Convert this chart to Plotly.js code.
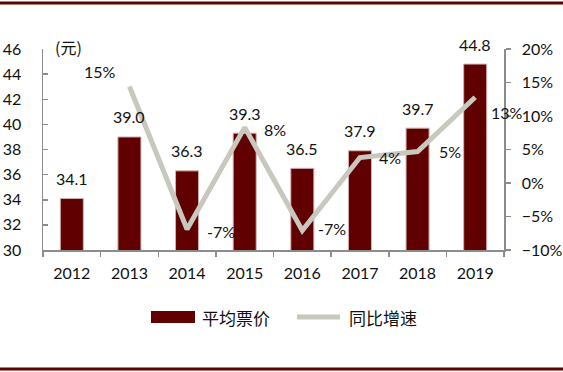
<!DOCTYPE html>
<html>
<head>
<meta charset="utf-8">
<script src="https://cdn.plot.ly/plotly-3.0.1.min.js"></script>
<style>html,body{margin:0;padding:0;background:#fff;}#chart{width:563px;height:372px;}</style>
</head>
<body>
<div id="chart"></div>
<script>
const years = ['2012','2013','2014','2015','2016','2017','2018','2019'];
const avgPrice = [34.1, 39.0, 36.3, 39.3, 36.5, 37.9, 39.7, 44.8];
const growthYears = ['2013','2014','2015','2016','2017','2018','2019'];
const growth = [0.144, -0.069, 0.083, -0.071, 0.038, 0.047, 0.128];
const growthLabels = ['15%','-7%','8%','-7%','4%','5%','13%'];
const priceName = '平均票价';
const growthName = '同比增速';

// label offsets (styling, px)
const gOff = [[-29,15],[34,-2],[30,-2],[30,2],[30,0],[32,0],[32,-15]];

const numFont = {family: 'Lato, "Liberation Sans", sans-serif', size: 16, color: '#111'};
const cjkFont = {family: '"Noto Sans CJK SC", sans-serif', size: 16, color: '#111'};
const legFont = {family: '"Noto Sans CJK SC", sans-serif', size: 17, color: '#111'};

const L = 43, R = 504, T = 49, B = 250, W = 563, H = 372;
const px = x => (x - L) / (R - L);
const py = y => (B - y) / (B - T);

const traces = [
  {type: 'bar', x: years, y: avgPrice, name: priceName, width: 0.4,
   marker: {color: '#600000', line: {color: '#d2b4b4', width: 1}}, yaxis: 'y', hoverinfo: 'skip'},
  {type: 'scatter', mode: 'lines', x: growthYears, y: growth, name: growthName, yaxis: 'y2',
   line: {color: '#c8c8bf', width: 5}, hoverinfo: 'skip'}
];

const annotations = [];
years.forEach((yr, i) => annotations.push({x: years.indexOf(yr), y: avgPrice[i], xref: 'x', yref: 'y', text: avgPrice[i].toFixed(1),
  showarrow: false, xanchor: 'center', yanchor: 'middle', yshift: 20, font: numFont}));
growthYears.forEach((yr, i) => annotations.push({x: years.indexOf(yr), y: growth[i], xref: 'x', yref: 'y2', text: growthLabels[i],
  showarrow: false, xanchor: 'center', yanchor: 'middle', xshift: gOff[i][0], yshift: gOff[i][1], font: numFont}));
annotations.push({x: px(68), y: py(47), xref: 'paper', yref: 'paper', text: '(元)', showarrow: false, xanchor: 'center', yanchor: 'middle', font: cjkFont});
annotations.push({x: px(200), y: py(317), xref: 'paper', yref: 'paper', text: priceName, showarrow: false, xanchor: 'left', yanchor: 'middle', font: legFont});
annotations.push({x: px(347), y: py(317), xref: 'paper', yref: 'paper', text: growthName, showarrow: false, xanchor: 'left', yanchor: 'middle', font: legFont});

const shapes = [
  {type: 'line', xref: 'paper', yref: 'paper', x0: px(0), x1: px(W), y0: py(3), y1: py(3), line: {color: '#600000', width: 3}},
  {type: 'line', xref: 'paper', yref: 'paper', x0: px(0), x1: px(W), y0: py(369), y1: py(369), line: {color: '#600000', width: 3}},
  {type: 'rect', xref: 'paper', yref: 'paper', x0: px(151), x1: px(195), y0: py(311), y1: py(323), fillcolor: '#600000', line: {width: 0}},
  {type: 'line', xref: 'paper', yref: 'paper', x0: px(297), x1: px(340), y0: py(317), y1: py(317), line: {color: '#c8c8bf', width: 5}}
];

const layout = {
  width: W, height: H,
  margin: {l: L, r: W - R, t: T, b: H - B},
  paper_bgcolor: '#fff', plot_bgcolor: '#fff',
  showlegend: false,
  font: numFont,
  xaxis: {type: 'category', range: [-0.5, years.length - 0.5], showline: true, linecolor: '#8c8c8c', linewidth: 1.5, ticks: 'outside', tickson: 'boundaries',
    ticklen: 5, tickcolor: '#8c8c8c', tickwidth: 1.5, showgrid: false, zeroline: false, tickfont: numFont, ticklabelstandoff: 8, tickangle: 0},
  yaxis: {range: [30, 46], dtick: 2, showline: true, linecolor: '#8c8c8c', linewidth: 1.5, ticks: 'inside', ticklen: 5,
    tickcolor: '#8c8c8c', tickwidth: 1.5, showgrid: false, zeroline: false, tickfont: numFont, ticklabelstandoff: 17},
  yaxis2: {overlaying: 'y', side: 'right', range: [-0.10, 0.20], dtick: 0.05, tickformat: '.0%', showline: true,
    linecolor: '#8c8c8c', linewidth: 1.5, ticks: 'outside', ticklen: 5, tickcolor: '#8c8c8c', tickwidth: 1.5,
    showgrid: false, zeroline: false, tickfont: numFont, ticklabelstandoff: 8},
  annotations: annotations,
  shapes: shapes
};

Plotly.newPlot('chart', traces, layout, {displayModeBar: false, staticPlot: true});
</script>
</body>
</html>
